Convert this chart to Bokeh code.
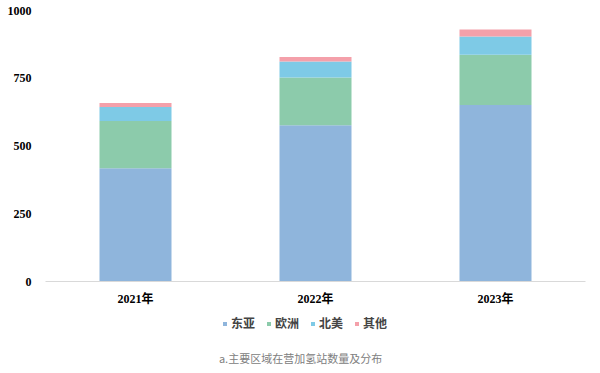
from bokeh.plotting import figure
from bokeh.layouts import column
from bokeh.models import Legend, LegendItem, FixedTicker, ColumnDataSource
from bokeh.core.properties import value
from bokeh.embed import file_html
from bokeh.resources import INLINE

years = ["2021年", "2022年", "2023年"]
regions = ["东亚", "欧洲", "北美", "其他"]
east_asia = [418, 577, 651]
europe = [174, 176, 186]
north_america = [52, 59, 67]
others = [15, 16, 26]
colors = ["#8FB5DC", "#8CCBAB", "#7ECAE6", "#F4A0AA"]
y_ticks = [0, 250, 500, 750, 1000]
caption = "a.主要区域在营加氢站数量及分布"

SERIF = "'Liberation Serif', 'Noto Sans CJK SC'"

src = ColumnDataSource(dict(year=years, **{regions[0]: east_asia, regions[1]: europe,
                                          regions[2]: north_america, regions[3]: others}))

p = figure(x_range=years, y_range=(0, 1000), frame_width=540, frame_height=271,
           output_backend="svg", toolbar_location=None,
           min_border_left=45, min_border_right=5, min_border_top=10, min_border_bottom=30)

renderers = p.vbar_stack(regions, x="year", width=0.4, color=colors, source=src, line_color=None)

p.xgrid.grid_line_color = None
p.ygrid.grid_line_color = None
p.outline_line_color = None
p.x_range.range_padding = 0

p.yaxis.ticker = FixedTicker(ticks=y_ticks)
p.yaxis.axis_line_color = None
p.yaxis.major_tick_line_color = None
p.yaxis.minor_tick_line_color = None
p.yaxis.major_label_text_font = SERIF
p.yaxis.major_label_text_font_style = "bold"
p.yaxis.major_label_text_font_size = "12px"
p.yaxis.major_label_text_color = "#000000"
p.yaxis.major_label_standoff = 8

p.xaxis.axis_line_color = "#D9D9D9"
p.xaxis.major_tick_line_color = None
p.xaxis.minor_tick_line_color = None
p.xaxis.major_label_text_font = SERIF
p.xaxis.major_label_text_font_style = "bold"
p.xaxis.major_label_text_font_size = "12px"
p.xaxis.major_label_text_color = "#000000"
p.xaxis.major_label_standoff = 4

# second figure: legend + caption (frame aligned with the chart's frame: x 45..585)
p2 = figure(x_range=(45, 585), y_range=(60, 0), frame_width=540, frame_height=60,
            output_backend="svg", toolbar_location=None,
            x_axis_location=None, y_axis_location=None,
            min_border_left=45, min_border_right=5, min_border_top=0, min_border_bottom=0)
p2.grid.visible = False
p2.outline_line_color = None

nan = float("nan")
leg_renderers = [p2.rect(x=[nan], y=[nan], width=1, height=1, fill_color=c, line_color=None)
                 for c in colors]
items = [LegendItem(label=r, renderers=[rr]) for r, rr in zip(regions, leg_renderers)]
legend = Legend(items=items, orientation="horizontal", location=(177, 39),
                label_text_font=SERIF, label_text_font_style="bold",
                label_text_font_size="12px", glyph_width=5, glyph_height=5,
                label_standoff=4, spacing=11, border_line_color=None,
                background_fill_alpha=0, margin=0, padding=0, label_height=14)
p2.add_layout(legend, "center")

p2.text(x=[300], y=[46], text=[caption], text_align="center", text_baseline="middle",
        text_color="#808080", text_font=value("Noto Sans CJK SC"), text_font_size="11px")

layout = column(p, p2, spacing=0)
open("out.html", "w").write(file_html(layout, INLINE))
